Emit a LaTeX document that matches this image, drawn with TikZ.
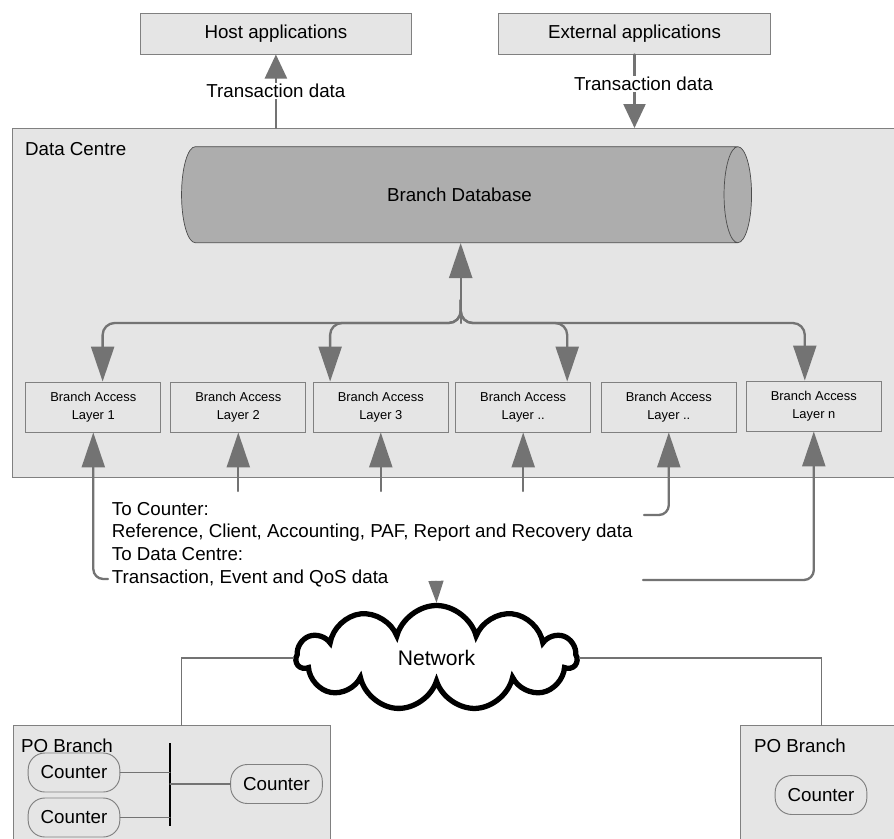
\documentclass[tikz,border=0pt]{standalone}
\usepackage{fontspec}
\setmainfont{Liberation Sans}
\usetikzlibrary{arrows.meta, shapes.geometric, shapes.symbols}

\begin{document}
\begin{tikzpicture}
			[x=0.03cm,y=-0.03cm,line cap=round,
			font=\fontsize{16}{19.3}\selectfont,
			%Styles
			box/.style={draw=edgegrey,fill=boxfill,line width=0.8pt,inner sep=0pt},
			appbox/.style={box,minimum width=8.15cm,minimum height=1.22cm},
			layerbox/.style={box,minimum width=4.05cm,minimum height=1.5cm,align=center,font=\fontsize{11}{15}\selectfont},
			counter/.style={box,rounded corners=5mm,minimum width=2.75cm,minimum height=1.17cm},
			flow/.style={draw=arrowgrey,line width=2pt,-{Triangle[length=10.5mm,width=6.9mm]}},
			shortflow/.style={draw=arrowgrey,line width=2pt,-{Triangle[length=7.2mm,width=6.6mm]}},
			netline/.style={draw=arrowgrey,line width=1.6pt},
			label text/.style={fill=white,inner sep=1pt}
			]
			
			%Colors
			\colorlet{arrowgrey}{black!55}	%arrows and links
			\colorlet{edgegrey}{black!50}
			\colorlet{boxfill}{black!10}
			\colorlet{dbfill}{black!32}
			
			\useasboundingbox (0,0) rectangle (894,838);
			
			%The graphic
			
			\node[box,anchor=north west,minimum width=26.7cm,minimum height=10.46cm] (datacentre) at (11.7,128) {};
			\node[anchor=base west] (dclabel) at (21,155) {Data Centre};
			
			\node[appbox] (hostapp) at (275.9,33.7) {Host applications};
			\node[appbox] (extapp) at (634.5,33.7) {External applications};
			
			\draw[shortflow] (hostapp.south |- datacentre.north) -- node[label text,pos=0.5] {Transaction data} (hostapp.south);
			\draw[shortflow] (extapp.south) -- node[label text,pos=0.4,xshift=2.7mm] {Transaction data} (extapp.south |- datacentre.north);
			
			\node[cylinder,draw=black!70,line width=0.6pt,fill=dbfill,aspect=2,minimum width=2.88cm,minimum height=17.1cm,inner sep=0pt] (branchdb) at (459.5,194.7) {Branch Database};
			
			\node[layerbox] (layer1) at (93.3,407) {Branch Access\\Layer 1};
			\node[layerbox] (layer2) at (238.3,407) {Branch Access\\Layer 2};
			\node[layerbox] (layer3) at (380.8,407) {Branch Access\\Layer 3};
			\node[layerbox] (layer4) at (523.2,407) {Branch Access\\Layer ..};
			\node[layerbox] (layer5) at (668.8,407) {Branch Access\\Layer ..};
			\node[layerbox] (layer6) at (813.8,406) {Branch Access\\Layer n};
			
			\coordinate (fork) at (460.7,323);
			\draw[flow] (fork) -- (fork |- branchdb.south);
			\draw[flow,rounded corners=3.6mm] (460.7,300) -- (fork) -| ([xshift=2.8mm]layer1.north);
			\draw[flow,rounded corners=3.6mm] (460.7,300) -- (fork) -| ([xshift=-15.2mm]layer3.north);
			\draw[flow,rounded corners=3.6mm] (460.7,300) -- (fork) -| ([xshift=13.2mm]layer4.north);
			\draw[flow,rounded corners=3.6mm] (460.7,300) -- (fork) -| ([xshift=-2.7mm]layer6.north);
			
			\node[anchor=base west,align=left,inner sep=0pt] (info) at (111.7,583) {To Counter:\\Reference, Client, Accounting, PAF, Report and Recovery data\\To Data Centre:\\Transaction, Event and QoS data};
			
			\coordinate (in1) at (108,579);
			\coordinate (in5) at (644,515);
			\coordinate (in6) at (643,580);
			\draw[flow,rounded corners=3mm] (in1) -| (layer1.south);
			\draw[flow] (layer2.south |- 0,491) -- (layer2.south);
			\draw[flow] (layer3.south |- 0,491) -- (layer3.south);
			\draw[flow] (layer4.south |- 0,491) -- (layer4.south);
			\draw[flow,rounded corners=3mm] (in5) -| (layer5.south);
			\draw[flow,rounded corners=3mm] (in6) -| (layer6.south);
			
			\node[box,anchor=north west,minimum width=9.51cm,minimum height=4cm] (branchL) at (12.5,725) {};
			\node[box,anchor=north west,minimum width=4.86cm,minimum height=4cm] (branchR) at (740,725) {};
			\node[anchor=base west] (brlabelL) at (17,752) {PO Branch};
			\node[anchor=base west] (brlabelR) at (750,752) {PO Branch};
			
			\node[cloud,draw=black,line width=4.5pt,fill=white,cloud puffs=11,aspect=2.6,minimum width=8.4cm,minimum height=3.15cm,font=\fontsize{18}{20}\selectfont] (network) at (436.5,658) {Network};
			\coordinate (netin) at (436,582);
			\draw[draw=arrowgrey,line width=1pt,-{Triangle[length=6.6mm,width=4.5mm]}] (netin) -- (network.north);
			\draw[netline] (network.west) -| ([xshift=3mm]branchL.north);
			\draw[netline] (network.east) -| (branchR.north);
			
			\node[counter] (ctrA) at (74,772.5) {Counter};
			\node[counter] (ctrB) at (74,817.5) {Counter};
			\node[counter] (ctrC) at (276.5,784) {Counter};
			\node[counter] (ctrD) at (821,795) {Counter};
			
			\coordinate (bustop) at (170,743);
			\coordinate (busend) at (170,826);
			\draw[line width=2.5pt,line cap=butt] (bustop) -- (busend);
			\draw[netline,line width=1pt] (ctrA.east) -- (ctrA.east -| bustop);
			\draw[netline,line width=1pt] (ctrB.east) -- (ctrB.east -| bustop);
			\draw[netline,line width=1pt] (bustop |- ctrC.west) -- (ctrC.west);
		\end{tikzpicture}
\end{document}
